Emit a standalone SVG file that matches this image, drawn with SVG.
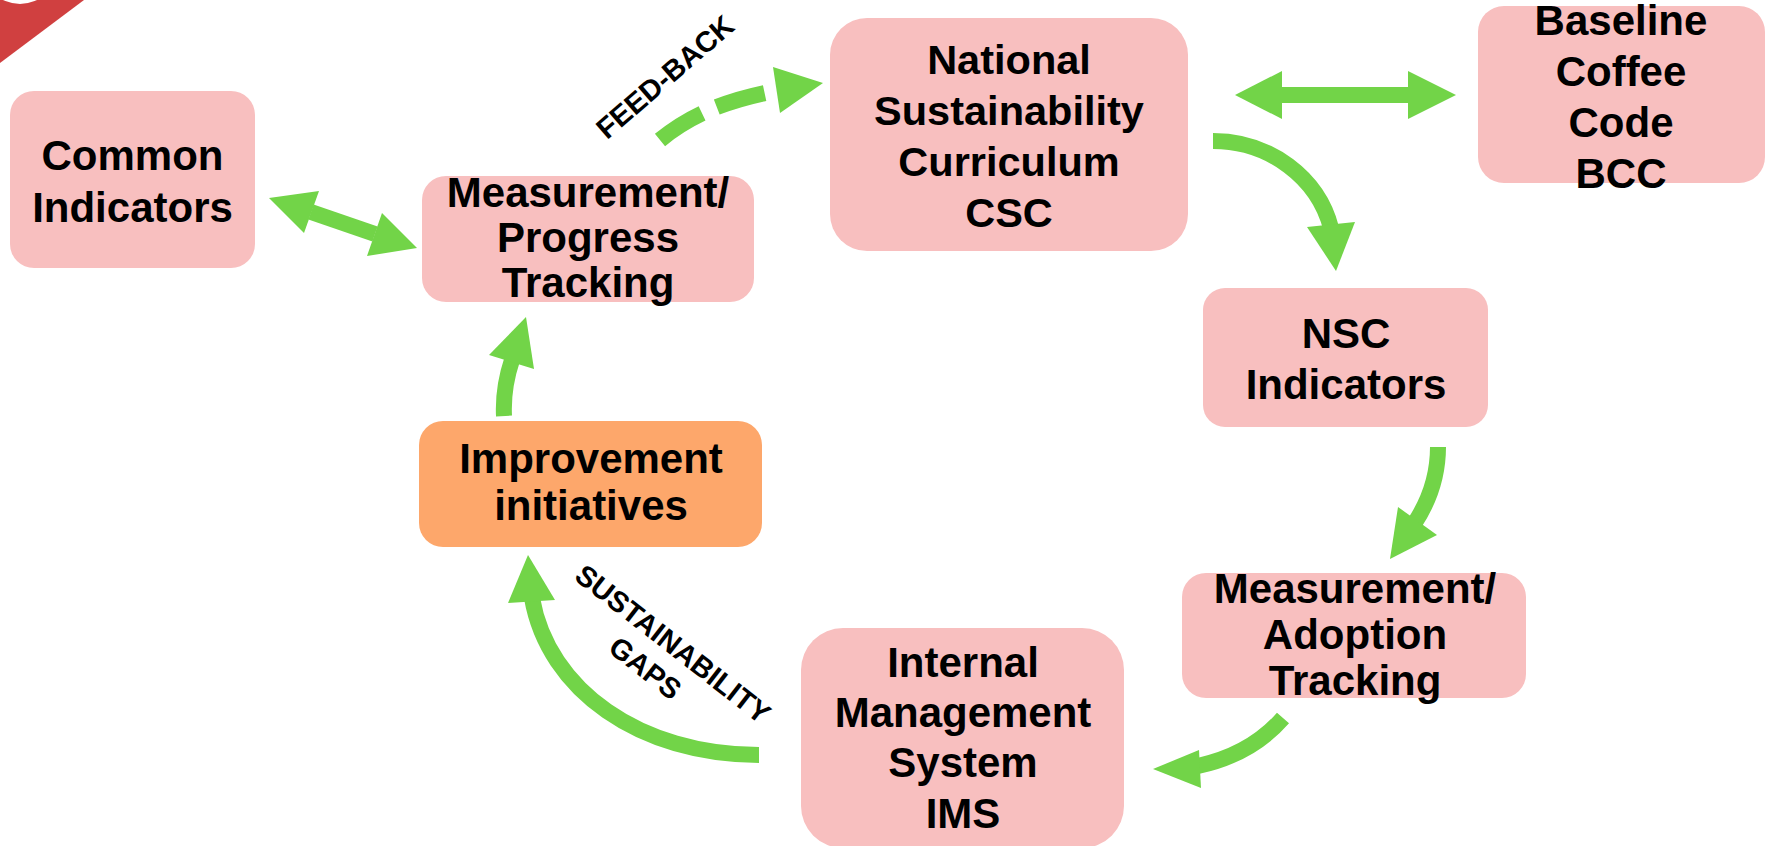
<svg xmlns="http://www.w3.org/2000/svg" width="1771" height="846" viewBox="0 0 1771 846">
<style>
.box{fill:#F8BFBF}
.box2{fill:#FDA76B}
.t{font-family:"Liberation Sans",Arial,sans-serif;font-weight:bold;font-size:42px;fill:#000;text-anchor:middle}
.lbl{font-family:"Liberation Sans",Arial,sans-serif;font-weight:bold;font-size:29px;fill:#000;text-anchor:middle}
.shaft{fill:none;stroke:#72D448;stroke-width:16;stroke-linecap:butt}
.head{fill:#72D448}
</style>
<rect width="1771" height="846" fill="#fff"/>
<g id="logo">
<polygon points="0,0 84,0 0,63" fill="#D04040"/>
<circle cx="20" cy="-34" r="38" fill="#fff"/>
</g>
<g id="connectors">
<!-- Common <-> Progress -->
<path class="shaft" d="M311 212 L375 234"/>
<polygon class="head" points="269,198 319,191 304,233"/>
<polygon class="head" points="417,248 382,213 367,256"/>
<!-- Feedback dashed -->
<path class="shaft" d="M660 140 C688 117 722 101 775 91" stroke-dasharray="50 16"/>
<polygon class="head" points="773,67 823,83 780,113"/>
<!-- CSC <-> BCC -->
<path class="shaft" d="M1280 95 L1410 95"/>
<polygon class="head" points="1235,95 1282,71 1282,119"/>
<polygon class="head" points="1456,95 1408,71 1408,119"/>
<!-- CSC -> NSC Indicators -->
<path class="shaft" d="M1213 141 C1270 141 1318 178 1331 228"/>
<polygon class="head" points="1307,227 1355,222 1336,271"/>
<!-- NSC Indicators -> Adoption -->
<path class="shaft" d="M1438 447 C1438 475 1430 500 1414 524"/>
<polygon class="head" points="1398,507 1437,535 1390,559"/>
<!-- Adoption -> IMS -->
<path class="shaft" d="M1283 718 C1262 742 1235 758 1198 766"/>
<polygon class="head" points="1199,750 1201,788 1153,769"/>
<!-- IMS -> Improvement -->
<path class="shaft" d="M759 755 C640 755 548 690 532 598"/>
<polygon class="head" points="508,603 555,600 528,555"/>
<!-- Improvement -> Progress -->
<path class="shaft" d="M504 416 C503 395 506 378 512 360"/>
<polygon class="head" points="489,355 534,369 526,317"/>
</g>
<g id="label-feedback">
<text class="lbl" transform="translate(665,77) rotate(-40.8)" y="10">FEED-BACK</text>
</g>
<g id="label-gaps">
<text class="lbl" transform="translate(673,644) rotate(38)"><tspan x="0" y="10">SUSTAINABILITY</tspan><tspan x="-7" y="46">GAPS</tspan></text>
</g>
<g id="node-common">
<rect class="box" x="10" y="91" width="245" height="177" rx="24"/>
<text class="t"><tspan x="132.5" y="170">Common</tspan><tspan x="132.5" y="222">Indicators</tspan></text>
</g>
<g id="node-progress">
<rect class="box" x="422" y="176" width="332" height="126" rx="24"/>
<text class="t"><tspan x="588" y="207">Measurement/</tspan><tspan x="588" y="252">Progress</tspan><tspan x="588" y="297">Tracking</tspan></text>
</g>
<g id="node-csc">
<rect class="box" x="830" y="18" width="358" height="233" rx="37"/>
<text class="t" style="font-size:41.5px"><tspan x="1009" y="74">National</tspan><tspan x="1009" y="125">Sustainability</tspan><tspan x="1009" y="176">Curriculum</tspan><tspan x="1009" y="227">CSC</tspan></text>
</g>
<g id="node-bcc">
<rect class="box" x="1478" y="6" width="287" height="177" rx="26"/>
<text class="t"><tspan x="1621" y="35">Baseline</tspan><tspan x="1621" y="86">Coffee</tspan><tspan x="1621" y="137">Code</tspan><tspan x="1621" y="188">BCC</tspan></text>
</g>
<g id="node-nsc-indicators">
<rect class="box" x="1203" y="288" width="285" height="139" rx="22"/>
<text class="t"><tspan x="1346" y="348">NSC</tspan><tspan x="1346" y="399">Indicators</tspan></text>
</g>
<g id="node-adoption">
<rect class="box" x="1182" y="573" width="344" height="125" rx="24"/>
<text class="t"><tspan x="1355" y="603">Measurement/</tspan><tspan x="1355" y="649">Adoption</tspan><tspan x="1355" y="695">Tracking</tspan></text>
</g>
<g id="node-ims">
<rect class="box" x="801" y="628" width="323" height="220" rx="42"/>
<text class="t"><tspan x="963" y="677">Internal</tspan><tspan x="963" y="727">Management</tspan><tspan x="963" y="777">System</tspan><tspan x="963" y="828">IMS</tspan></text>
</g>
<g id="node-improvement">
<rect class="box2" x="419" y="421" width="343" height="126" rx="24"/>
<text class="t"><tspan x="591" y="473">Improvement</tspan><tspan x="591" y="520">initiatives</tspan></text>
</g>
</svg>
